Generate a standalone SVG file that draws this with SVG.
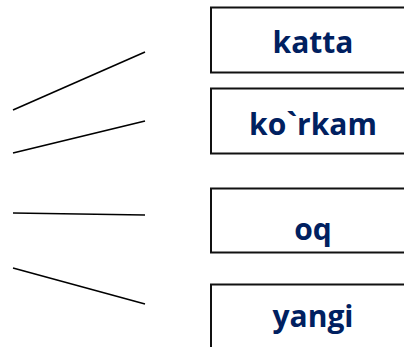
<svg xmlns="http://www.w3.org/2000/svg" width="404" height="347" viewBox="0 0 404 347">
<style>
.box{fill:#fff;stroke:#111;stroke-width:2}
.lbl{font-family:"Open Sans","Liberation Sans",sans-serif;font-weight:bold;font-size:30px;fill:#002060;text-anchor:middle}
.con line{stroke:#000;stroke-width:1.6;stroke-linecap:butt}
</style>
<rect width="404" height="347" fill="#fff"/>
<g class="con" id="connectors">
<line x1="13" y1="110" x2="145" y2="52"/>
<line x1="13" y1="153" x2="145" y2="121"/>
<line x1="13" y1="213" x2="145" y2="215"/>
<line x1="13" y1="268" x2="145" y2="304"/>
</g>
<g id="n1"><rect class="box" x="211" y="7.5" width="210" height="65"/><text class="lbl" x="313" y="53">katta</text></g>
<g id="n2"><rect class="box" x="211" y="88.5" width="210" height="65"/><text class="lbl" x="313" y="135">ko`rkam</text></g>
<g id="n3"><rect class="box" x="211" y="188.5" width="210" height="64"/><text class="lbl" x="313" y="240">oq</text></g>
<g id="n4"><rect class="box" x="211" y="284.5" width="210" height="80"/><text class="lbl" x="313" y="327">yangi</text></g>
</svg>
